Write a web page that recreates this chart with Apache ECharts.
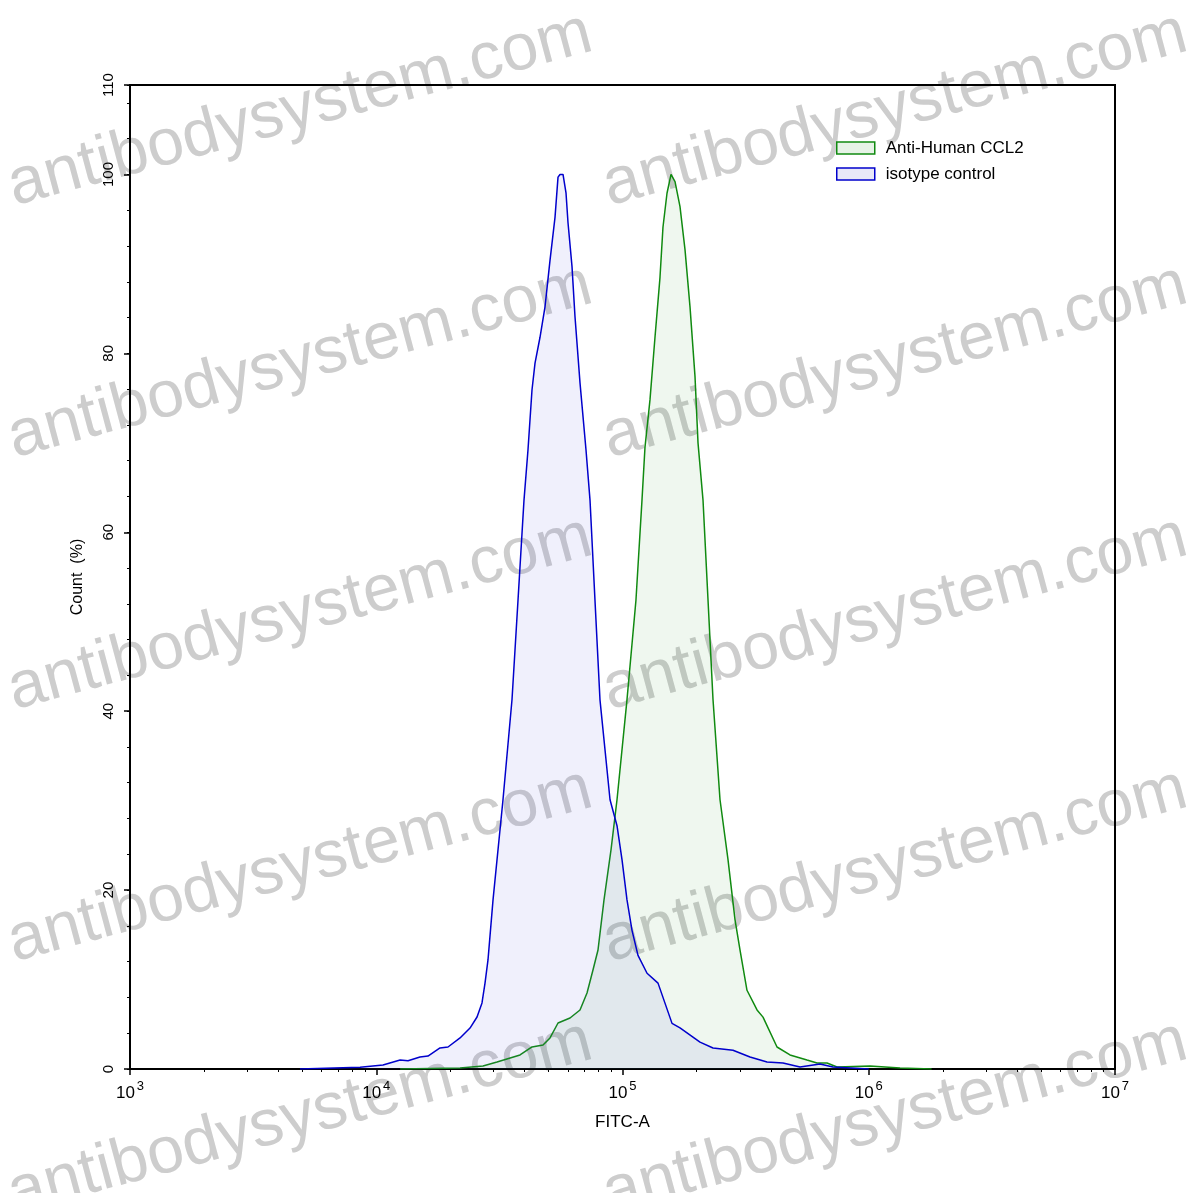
<!DOCTYPE html>
<html>
<head>
<meta charset="utf-8">
<script src="https://cdn.jsdelivr.net/npm/echarts@6/dist/echarts.min.js"></script>
<style>
html,body{margin:0;padding:0;background:#fff;}
#chart{width:1197px;height:1193px;}
</style>
</head>
<body>
<div id="chart"></div>
<script>
// ---- data ----
const isotypeFitc = [4900, 8600, 10650, 12500, 13460, 15050, 16220, 18150, 19560, 21890,
  24030, 25660, 26880, 27650, 28430, 29800, 32710, 35590, 37640, 39810,
  41320, 42900, 44130, 46240, 48450, 50770, 53200, 54720, 55750, 57340,
  58980, 60080, 62370, 64140, 67210, 71090, 73800, 77310, 81000, 89000,
  95000, 99540, 104300, 109300, 115600, 125800, 139400, 158900, 171200, 206400,
  233100, 281000, 329500, 386300, 448600, 525900, 633900, 715800, 1000000];
const isotypeCount = [0, 0.19, 0.45, 1.0, 0.93, 1.34, 1.45, 2.35, 2.46, 3.47,
  4.58, 5.81, 7.38, 9.61, 12.19, 18.9, 30.1, 41.3, 52.4, 63.6,
  69.2, 75.9, 78.9, 81.8, 85.2, 90.4, 95.2, 99.7, 100, 100,
  97.9, 94.6, 89.7, 84.1, 76.7, 69.2, 63.6, 52.4, 41.3, 30.1,
  27.2, 23.4, 18.9, 15.5, 12.7, 10.7, 9.6, 5.1, 4.6, 3.0,
  2.35, 2.1, 1.34, 0.78, 0.67, 0.22, 0.56, 0.22, 0];

const ccl2Fitc = [12500, 21890, 27130, 30930, 38360, 42900, 47560, 50770, 54720, 61210,
  67210, 71760, 75880, 79530, 84120, 89810, 94990, 104300, 113400, 120000,
  123400, 129300, 135500, 142000, 146000, 151600, 157400, 163400, 171200, 179400,
  188000, 197000, 202600, 212300, 222500, 233100, 248900, 268200, 286300, 300100,
  320300, 351800, 372100, 424100, 478800, 561300, 616500, 676900, 743200, 1012000,
  1340000, 1800000];
const ccl2Count = [0, 0.1, 0.34, 0.78, 1.57, 2.46, 2.68, 3.47, 5.14, 5.70,
  6.6, 8.5, 11.07, 13.3, 18.9, 24.5, 30.1, 41.3, 52.4, 63.6,
  69.5, 74.8, 81.8, 88.5, 94.1, 97.9, 100, 99.2, 96.4, 91.6,
  85.2, 77.4, 70.0, 63.6, 52.4, 41.3, 30.1, 23.4, 16.7, 13.3,
  8.8, 6.6, 5.8, 2.46, 1.57, 1.0, 0.67, 0.67, 0.22, 0.34,
  0.1, 0];

const seriesNames = ['Anti-Human CCL2', 'isotype control'];
const xMajorTicks = [1e3, 1e4, 1e5, 1e6, 1e7];
const xMinorTicks = [];
[1e3, 1e4, 1e5, 1e6].forEach(d => { for (let k = 2; k <= 9; k++) xMinorTicks.push(k * d); });
const xAxisTitle = 'FITC-A';
const yAxisTitle = 'Count  (%)';
const watermarkText = 'antibodysystem.com';

// ---- build ----
const zip = (xs, ys) => xs.map((x, i) => [x, ys[i]]);
const FONT = '"Liberation Sans", Arial, sans-serif';

const wmRows = [110, 362, 614, 866, 1118];
const wmCols = [300, 895];
const graphics = [];
wmRows.forEach(y => wmCols.forEach(x => {
  graphics.push({
    type: 'text', x: x, y: y, rotation: 15 * Math.PI / 180, z: -10, silent: true,
    style: { text: watermarkText, fontSize: 66, fontFamily: FONT, fill: '#cdcdcd',
             align: 'center', verticalAlign: 'middle' }
  });
}));

const chart = echarts.init(document.getElementById('chart'));
chart.setOption({
  backgroundColor: '#fff',
  animation: false,
  textStyle: { fontFamily: FONT },
  graphic: { elements: graphics },
  legend: {
    orient: 'vertical', left: 836, top: 139, padding: 0, itemWidth: 38, itemHeight: 12, itemGap: 8,
    textStyle: { fontSize: 17, color: '#000', fontFamily: FONT, padding: [0, 0, 0, 6], lineHeight: 18 },
    data: [
      { name: seriesNames[0], icon: 'rect', itemStyle: { color: '#e6f3e6', borderColor: '#108a10', borderWidth: 1.5 } },
      { name: seriesNames[1], icon: 'rect', itemStyle: { color: '#e8e8f8', borderColor: '#0000cc', borderWidth: 1.5 } }
    ]
  },
  grid: { left: 130, right: 82, top: 85, bottom: 124, show: true, borderColor: '#000', borderWidth: 2, backgroundColor: 'transparent' },
  xAxis: [
    {
      type: 'log', logBase: 10, min: 1e3, max: 1e7,
      name: xAxisTitle, nameLocation: 'middle', nameGap: 45,
      nameTextStyle: { fontSize: 17, color: '#000', fontFamily: FONT },
      axisLine: { lineStyle: { color: '#000', width: 2 } },
      axisTick: { show: true, length: 6, lineStyle: { color: '#000', width: 1.5 }, customValues: xMajorTicks },
      axisLabel: {
        show: true, margin: 11, customValues: xMajorTicks,
        formatter: v => '{b|10}{s|' + Math.round(Math.log10(v)) + '}',
        rich: {
          b: { fontSize: 17, color: '#000', fontFamily: FONT, verticalAlign: 'bottom' },
          s: { fontSize: 13, color: '#000', fontFamily: FONT, padding: [0, 0, 9, 2], verticalAlign: 'bottom' }
        }
      },
      splitLine: { show: false }, minorTick: { show: false }, minorSplitLine: { show: false }
    },
    {
      type: 'log', logBase: 10, min: 1e3, max: 1e7, position: 'bottom', gridIndex: 0,
      axisLine: { show: false },
      axisTick: { show: true, length: 3, lineStyle: { color: '#000', width: 1 }, customValues: xMinorTicks },
      axisLabel: { show: false }, splitLine: { show: false }
    }
  ],
  yAxis: [
    {
      type: 'value', min: 0, max: 110, interval: 20,
      name: yAxisTitle, nameLocation: 'middle', nameGap: 44, nameRotate: 90,
      nameTextStyle: { fontSize: 16, color: '#000', fontFamily: FONT },
      axisLine: { show: true, lineStyle: { color: '#000', width: 2 } },
      axisTick: { show: true, length: 6, lineStyle: { color: '#000', width: 1.5 } },
      axisLabel: { rotate: 90, fontSize: 15, color: '#000', margin: 14, fontFamily: FONT },
      splitLine: { show: false }
    },
    {
      type: 'value', min: 0, max: 110, interval: 4, position: 'left',
      axisLine: { show: false },
      axisTick: { show: true, length: 3, lineStyle: { color: '#000', width: 1 } },
      axisLabel: { show: false }, splitLine: { show: false }
    }
  ],
  series: [
    {
      name: seriesNames[0], type: 'line', data: zip(ccl2Fitc, ccl2Count),
      showSymbol: false, symbol: 'none', z: 3,
      lineStyle: { color: '#108a10', width: 1.5 },
      itemStyle: { color: '#108a10' },
      areaStyle: { color: 'rgba(0,128,0,0.09)' }
    },
    {
      name: seriesNames[1], type: 'line', data: zip(isotypeFitc, isotypeCount),
      showSymbol: false, symbol: 'none', z: 4,
      lineStyle: { color: '#0000cc', width: 1.5 },
      itemStyle: { color: '#0000cc' },
      areaStyle: { color: 'rgba(90,90,220,0.13)' }
    }
  ]
});
</script>
</body>
</html>
